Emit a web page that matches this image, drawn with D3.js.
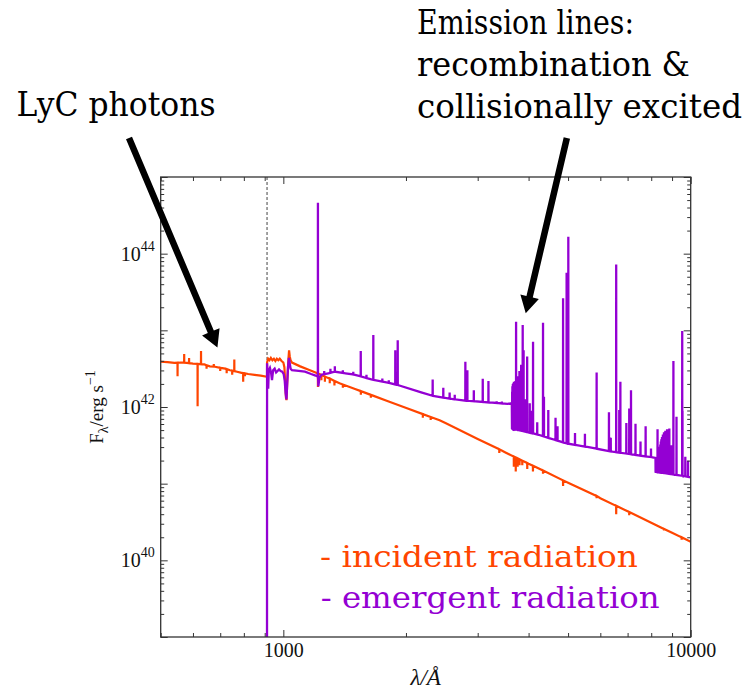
<!DOCTYPE html>
<html><head><meta charset="utf-8">
<script src="https://cdn.jsdelivr.net/npm/d3@7"></script>
<style>body{margin:0;background:#fff} svg{display:block}</style>
</head><body>
<svg id="c" width="748" height="689"></svg>
<script>
// ---------------- data (wavelength in Å, log10 of F_lambda in erg/s) ----------------
const xDomain = [500, 10000];
const yDomain = [1e39, 1e45];
const xMajorTicks = [1000, 10000];
const xTickLabels = ["1000", "10000"];
const yMajorTicks = [1e39, 1e40, 1e41, 1e42, 1e43, 1e44, 1e45];
const yLabelExponents = [40, 42, 44];
const lymanLimit = 912;

const incidentContinuum = [
  [500,42.59],[520,42.585],[540,42.575],[560,42.58],[580,42.575],[600,42.565],[640,42.555],[660,42.53],
  [680,42.525],[700,42.51],[720,42.50],[740,42.48],[770,42.46],[790,42.445],[820,42.43],[850,42.42],
  [880,42.41],[911.8,42.395],
  [912.2,42.58],[918,42.63],[925,42.61],[932,42.64],[940,42.61],[948,42.63],[956,42.60],[964,42.63],
  [972,42.61],[980,42.63],[990,42.60],[1000,42.58],[1006,42.52],[1011,42.30],[1015,42.12],[1018,42.09],
  [1021,42.25],[1025,42.45],[1029,42.62],[1033,42.74],[1037,42.66],[1042,42.61],[1050,42.58],
  [1100,42.53],[1150,42.49],[1200,42.45],[1300,42.37],[1374,42.31],[1500,42.235],[1660,42.148],
  [1800,42.079],[2004,41.987],[2200,41.907],[2419,41.826],[2500,41.79],[3000,41.583],[3500,41.41],
  [4000,41.26],[5000,41.012],[6000,40.81],[7000,40.639],[8000,40.49],[9000,40.36],[10000,40.243]
];
// [wavelength, local continuum, extreme value] : absorption dips and emission bumps
const incidentFeatures = [
  [550,42.578,42.40],[571,42.578,42.69],[587,42.572,42.64],[616,42.561,42.01],[628,42.558,42.73],
  [648,42.545,42.50],[675,42.526,42.56],[700,42.51,42.47],[726,42.494,42.44],[749,42.474,42.42],
  [758,42.468,42.62],[797,42.442,42.33],[805,42.438,42.40],
  [1216,42.437,42.26],[1240,42.417,42.35],[1265,42.397,42.33],[1300,42.37,42.31],[1335,42.34,42.28],
  [1400,42.294,42.25],[1550,42.207,42.16],[1640,42.158,42.12],
  [2200,41.907,41.86],[2300,41.869,41.83],[3390,41.448,41.40],[3680,41.353,41.22],[3720,41.341,41.16],
  [3760,41.329,41.22],[3800,41.317,41.24],[3860,41.30,41.24],[3970,41.269,41.19],[4100,41.233,41.16],
  [4340,41.171,41.13],[4861,41.043,40.97],[5876,40.84,40.81],[6563,40.711,40.60],[7065,40.629,40.59],
  [8600,40.41,40.39],[9500,40.30,40.27]
];

const emergentContinuum = [
  [911.8,38.0],[912.2,42.57],[915,42.40],[918,42.24],[921,42.48],[927,42.51],[933,42.45],[938,42.35],
  [944,42.48],[952,42.50],[960,42.45],[968,42.47],[976,42.49],[985,42.47],[994,42.46],[1002,42.43],
  [1008,42.34],[1013,42.18],[1018,42.10],[1022,42.30],[1027,42.52],[1032,42.64],[1036,42.58],
  [1042,42.50],[1050,42.48],[1090,42.47],[1130,42.46],[1170,42.43],[1200,42.41],[1212,42.40],
  [1219,42.27],[1226,42.38],[1240,42.42],[1290,42.44],[1337,42.46],[1420,42.44],[1500,42.42],
  [1645,42.36],[1900,42.29],[2180,42.19],[2330,42.145],[2630,42.10],[2810,42.082],[3200,42.06],
  [3550,42.04],[3638,42.05],
  [3642,41.72],[4250,41.635],[4940,41.527],[5530,41.482],[6430,41.417],[8058,41.344],[8195,41.335],
  [8199,41.156],[10000,41.083]
];
// [wavelength, continuum at base, line peak]
const emergentLines = [
  [1216,42.40,44.665],
  [1260,42.428,42.47],[1305,42.446,42.50],[1338,42.46,42.53],[1400,42.445,42.48],[1485,42.424,42.46],
  [1549,42.40,42.73],[1600,42.378,42.42],[1663,42.355,42.94],[1750,42.331,42.37],[1815,42.314,42.35],
  [1883,42.294,42.74],[1909,42.287,42.87],[2326,42.146,42.36],[2470,42.123,42.25],[2560,42.11,42.19],
  [2635,42.10,42.16],[2798,42.083,42.59],[2830,42.081,42.48],[2935,42.075,42.22],[3087,42.066,42.37],
  [3188,42.06,42.34],[3340,42.052,42.075],[3440,42.046,42.07],
  [3645,41.719,42.20],[3650,41.718,42.27],[3655,41.717,42.22],[3660,41.716,42.30],[3665,41.716,42.25],
  [3670,41.715,42.31],[3676,41.714,42.27],[3682,41.713,42.33],[3688,41.712,42.28],[3695,41.711,42.32],
  [3703,41.71,42.29],[3712,41.709,42.34],[3727,41.707,43.113],[3734,41.706,42.30],[3750,41.704,42.40],
  [3771,41.701,42.36],[3798,41.697,42.47],[3820,41.694,42.25],[3835,41.692,42.55],[3869,41.687,43.07],
  [3889,41.684,42.74],[3930,41.678,42.10],[3968,41.673,42.66],[4026,41.665,42.05],[4069,41.659,41.95],
  [4102,41.656,42.85],[4200,41.642,41.80],[4340,41.62,43.10],[4363,41.616,42.135],[4471,41.598,41.96],
  [4658,41.569,41.86],[4711,41.561,41.75],[4861,41.539,43.42],[4959,41.525,43.75],[5007,41.521,44.22],
  [5200,41.507,41.66],[5500,41.484,41.65],[5876,41.456,42.45],[6300,41.426,41.93],[6312,41.425,41.61],
  [6364,41.421,41.60],[6563,41.41,43.86],[6678,41.405,41.96],[6720,41.403,42.33],[6950,41.393,41.79],
  [7065,41.388,41.98],[7136,41.383,42.22],[7320,41.375,41.78],[7530,41.365,41.55],[7751,41.356,41.75],
  [7990,41.347,41.46],
  [8210,41.156,41.22],[8225,41.155,41.25],[8240,41.155,41.28],[8255,41.154,41.27],[8270,41.153,41.32],
  [8291,41.152,41.71],[8310,41.151,41.36],[8330,41.15,41.40],[8360,41.149,41.44],[8392,41.147,41.48],
  [8420,41.146,41.51],[8446,41.145,41.55],[8470,41.144,41.58],[8502,41.143,41.61],[8545,41.141,41.64],
  [8598,41.139,41.67],[8665,41.136,41.69],[8750,41.133,41.71],[8863,41.128,41.72],[8960,41.125,41.50],
  [9069,41.119,42.60],[9229,41.113,41.874],[9532,41.103,42.99],[9546,41.102,41.95],[9700,41.097,41.35],
  [9850,41.09,41.30]
];

const legendLabels = ["- incident radiation", "- emergent radiation"];
const seriesColors = ["#ff4500", "#9400d3"];
// annotation arrows in data units: [lambda, log10 F]
const arrowLyC = { tail: [418, 45.509], tip: [689, 42.776] };
const arrowLines = { tail: [4966, 45.509], tip: [3936, 43.222] };

// ---------------- layout ----------------
const L = 160.7, R = 690.7, T = 177, B = 637;
const svg = d3.select("#c");
const x = d3.scaleLog().domain(xDomain).range([L, R]);
const y = d3.scaleLog().domain(yDomain).range([B, T]);
const serif = "'Liberation Serif','Times New Roman',serif";
const bookFont = "'DejaVu Serif',serif";

function buildSeries(cont, feats) {
  const pts = cont.map(d => ({ l: d[0], f: d[1] }));
  feats.forEach(d => {
    pts.push({ l: d[0] * 0.9996, f: d[1] }, { l: d[0], f: d[2] }, { l: d[0] * 1.0004, f: d[1] });
  });
  pts.sort((a, b) => a.l - b.l);
  return pts;
}
const line = d3.line().x(d => x(d.l)).y(d => y(Math.pow(10, d.f)));

svg.append("defs").append("clipPath").attr("id", "clip")
  .append("rect").attr("x", L).attr("y", T).attr("width", R - L).attr("height", B - T);

const plot = svg.append("g").attr("clip-path", "url(#clip)");

// Lyman limit dashed line
plot.append("line")
  .attr("x1", x(lymanLimit)).attr("x2", x(lymanLimit))
  .attr("y1", y(yDomain[1])).attr("y2", y(yDomain[0]))
  .attr("stroke", "#444").attr("stroke-width", 1).attr("stroke-dasharray", "3,2");

plot.append("path").attr("d", line(buildSeries(incidentContinuum, incidentFeatures)))
  .attr("fill", "none").attr("stroke", seriesColors[0]).attr("stroke-width", 2.2)
  .attr("stroke-linejoin", "miter");
plot.append("path").attr("d", line(buildSeries(emergentContinuum, emergentLines)))
  .attr("fill", "none").attr("stroke", seriesColors[1]).attr("stroke-width", 2.3)
  .attr("stroke-linejoin", "miter");

// ---------------- axes ----------------
function minorTicks(lo, hi) {
  const out = [];
  for (let e = Math.floor(Math.log10(lo)); e <= Math.ceil(Math.log10(hi)); e++)
    for (let m = 2; m <= 9; m++) { const v = m * Math.pow(10, e); if (v >= lo && v <= hi) out.push(v); }
  return out;
}
const xMinor = minorTicks(xDomain[0], xDomain[1]);
const yMinor = minorTicks(yDomain[0], yDomain[1]);
function styleAxis(g) {
  g.select(".domain").remove();
  g.selectAll("line").attr("stroke", "#333").attr("stroke-width", 1);
  g.attr("font-family", serif).attr("font-size", 20).attr("fill", "#111");
  g.selectAll("text").attr("fill", "#111");
}
// bottom
svg.append("g").attr("transform", `translate(0,${B})`)
  .call(d3.axisBottom(x).tickValues(xMajorTicks).tickSize(-7).tickPadding(6)
    .tickFormat((d, i) => xTickLabels[i])).call(styleAxis);
svg.append("g").attr("transform", `translate(0,${B})`)
  .call(d3.axisBottom(x).tickValues(xMinor).tickSize(-4).tickFormat("")).call(styleAxis);
// top
svg.append("g").attr("transform", `translate(0,${T})`)
  .call(d3.axisTop(x).tickValues(xMajorTicks).tickSize(-7).tickFormat("")).call(styleAxis);
svg.append("g").attr("transform", `translate(0,${T})`)
  .call(d3.axisTop(x).tickValues(xMinor).tickSize(-4).tickFormat("")).call(styleAxis);
// left
const yLeft = svg.append("g").attr("transform", `translate(${L},0)`)
  .call(d3.axisLeft(y).tickValues(yMajorTicks).tickSize(-7).tickPadding(6)
    .tickFormat(d => { const e = Math.round(Math.log10(d)); return yLabelExponents.includes(e) ? String(e) : ""; }))
  .call(styleAxis);
yLeft.selectAll("text").each(function () {
  const t = d3.select(this); const e = t.text(); if (!e) return;
  t.text(null);
  t.append("tspan").text("10");
  t.append("tspan").attr("dy", "-10").attr("font-size", 14).text(e);
});
svg.append("g").attr("transform", `translate(${L},0)`)
  .call(d3.axisLeft(y).tickValues(yMinor).tickSize(-3.5).tickFormat("")).call(styleAxis);
// right
svg.append("g").attr("transform", `translate(${R},0)`)
  .call(d3.axisRight(y).tickValues(yMajorTicks).tickSize(-7).tickFormat("")).call(styleAxis);
svg.append("g").attr("transform", `translate(${R},0)`)
  .call(d3.axisRight(y).tickValues(yMinor).tickSize(-3.5).tickFormat("")).call(styleAxis);

// frame
svg.append("rect").attr("x", L).attr("y", T).attr("width", R - L).attr("height", B - T)
  .attr("fill", "none").attr("stroke", "#333").attr("stroke-width", 1.3);

// axis titles
svg.append("text").attr("x", (L + R) / 2).attr("y", 685).attr("text-anchor", "middle")
  .attr("font-family", serif).attr("font-style", "italic").attr("font-size", 23).attr("fill", "#111")
  .text("λ/Å");
const yt = svg.append("text").attr("transform", `translate(103,${(T + B) / 2}) rotate(-90)`)
  .attr("text-anchor", "middle").attr("font-family", serif).attr("font-size", 19).attr("fill", "#111");
yt.append("tspan").text("F");
yt.append("tspan").attr("dy", 5).attr("font-size", 14).text("λ");
yt.append("tspan").attr("dy", -5).text("/erg s");
yt.append("tspan").attr("dy", -8).attr("font-size", 14).text("−1");

// legend
const legendPos = [[320, 566.7, 318], [320.7, 608.3, 339]];
legendLabels.forEach((s, i) => {
  svg.append("text").attr("x", legendPos[i][0]).attr("y", legendPos[i][1])
    .attr("font-family", bookFont).attr("font-size", 29).attr("fill", seriesColors[i])
    .attr("textLength", legendPos[i][2]).attr("lengthAdjust", "spacingAndGlyphs").text(s);
});

// annotations
const notes = [
  ["LyC photons", 16.5, 116, 199],
  ["Emission lines:", 417, 34, 217],
  ["recombination &", 417, 76, 273],
  ["collisionally excited", 417, 118, 325]
];
notes.forEach(n => {
  svg.append("text").attr("x", n[1]).attr("y", n[2]).attr("font-family", bookFont)
    .attr("font-size", 33).attr("fill", "#000")
    .attr("textLength", n[3]).attr("lengthAdjust", "spacingAndGlyphs").text(n[0]);
});

function arrow(a, shaftW, headW, headL) {
  const x0 = x(a.tail[0]), y0 = y(Math.pow(10, a.tail[1]));
  const x1 = x(a.tip[0]), y1 = y(Math.pow(10, a.tip[1]));
  const dx = x1 - x0, dy = y1 - y0, len = Math.hypot(dx, dy);
  const ux = dx / len, uy = dy / len, px = -uy, py = ux;
  const bx = x1 - ux * headL, by = y1 - uy * headL;
  const p = [
    [x0 + px * shaftW / 2, y0 + py * shaftW / 2],
    [bx + px * shaftW / 2, by + py * shaftW / 2],
    [bx + px * headW / 2, by + py * headW / 2],
    [x1, y1],
    [bx - px * headW / 2, by - py * headW / 2],
    [bx - px * shaftW / 2, by - py * shaftW / 2],
    [x0 - px * shaftW / 2, y0 - py * shaftW / 2]
  ];
  svg.append("path").attr("d", "M" + p.map(q => q.join(",")).join("L") + "Z").attr("fill", "#000");
}
arrow(arrowLyC, 6.5, 19, 17);
arrow(arrowLines, 6.5, 19, 17);
</script>
</body></html>
